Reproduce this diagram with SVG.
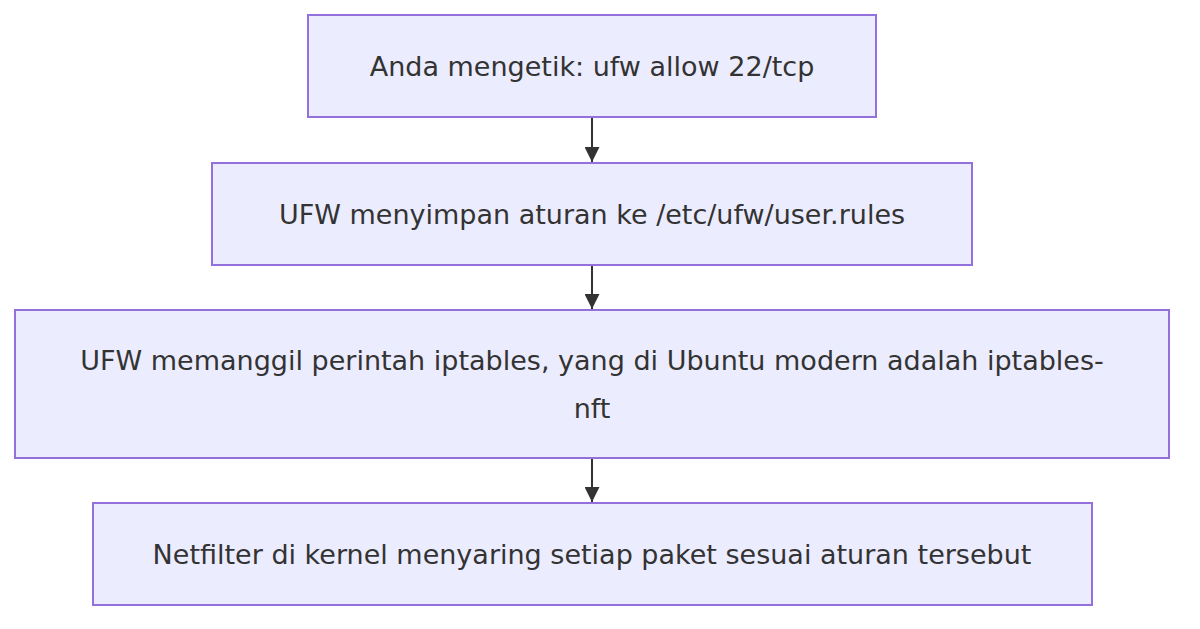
<svg xmlns="http://www.w3.org/2000/svg" width="1200" height="629" viewBox="0 0 1200 629">
<style>
.n rect{fill:#ECECFF;stroke:#9370DB;stroke-width:2}
.n text{font-family:"DejaVu Sans",sans-serif;font-size:27px;fill:#333;text-anchor:middle;dominant-baseline:central}
.c line{stroke:#333;stroke-width:2;marker-end:url(#a)}
</style>
<defs><marker id="a" viewBox="0 0 10 10" refX="10" refY="5" markerWidth="15" markerHeight="15" markerUnits="userSpaceOnUse" orient="auto"><path d="M0,0L10,5L0,10z" fill="#333"/></marker></defs>
<rect width="1200" height="629" fill="#fff"/>
<g class="c">
<line x1="592" y1="117" x2="592" y2="162"/>
<line x1="592" y1="265" x2="592" y2="309"/>
<line x1="592" y1="458" x2="592" y2="502"/>
</g>
<g class="n" id="n1"><rect x="308" y="15" width="568" height="102"/><text x="592" y="66">Anda mengetik: ufw allow 22/tcp</text></g>
<g class="n" id="n2"><rect x="212" y="163" width="760" height="102"/><text x="592" y="214">UFW menyimpan aturan ke /etc/ufw/user.rules</text></g>
<g class="n" id="n3"><rect x="15" y="310" width="1154" height="148"/><text x="592" y="360">UFW memanggil perintah iptables, yang di Ubuntu modern adalah iptables-</text><text x="592" y="408">nft</text></g>
<g class="n" id="n4"><rect x="93" y="503" width="999" height="102"/><text x="592" y="554">Netfilter di kernel menyaring setiap paket sesuai aturan tersebut</text></g>
</svg>
